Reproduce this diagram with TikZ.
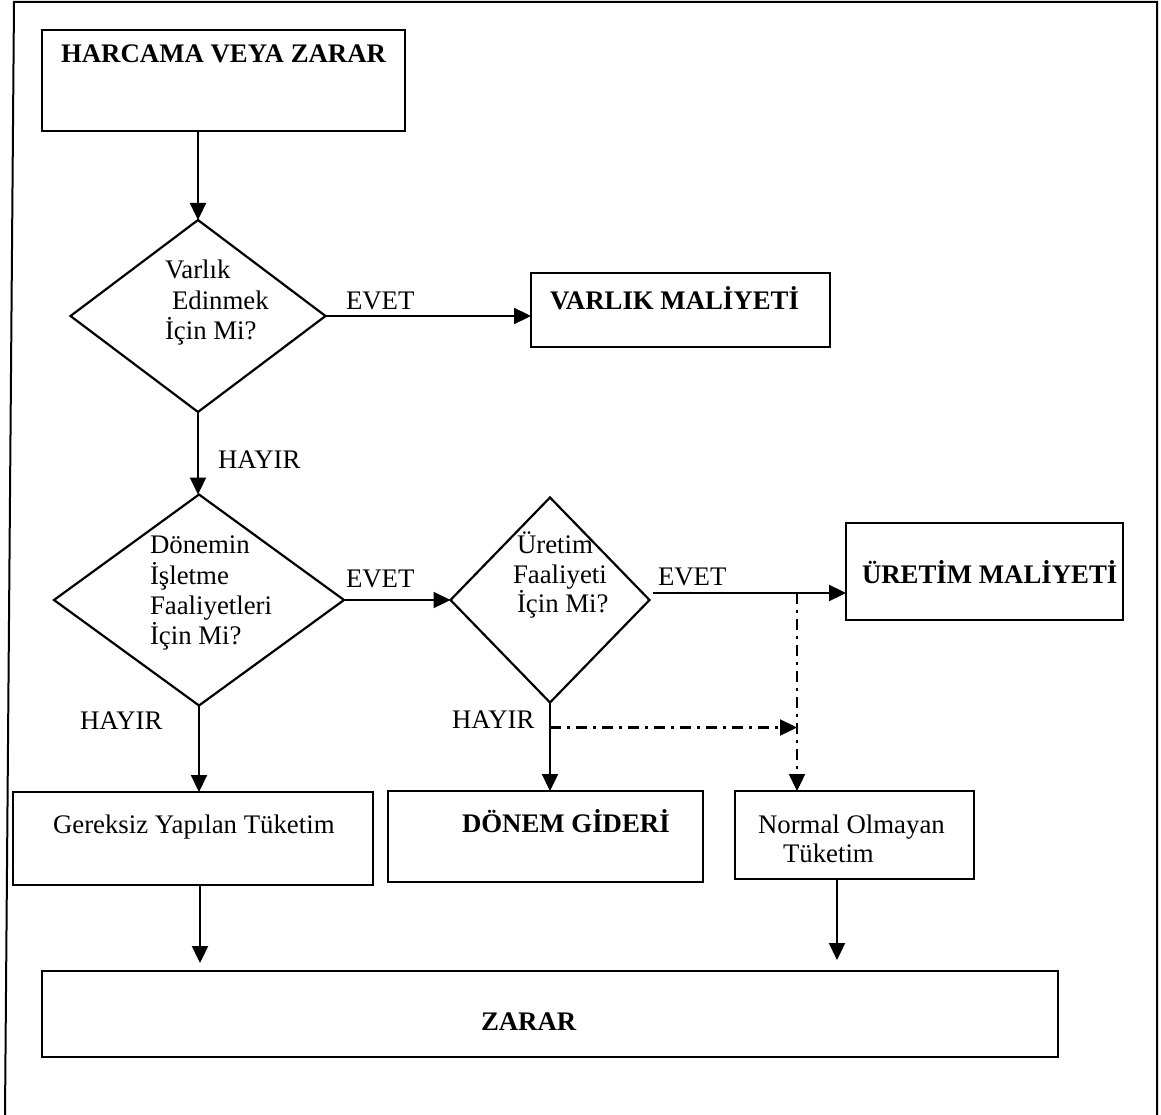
\documentclass[tikz,border=0pt]{standalone}
\usepackage{fontspec}
\setmainfont{Liberation Serif}
\usetikzlibrary{arrows.meta,shapes.geometric,calc}
\begin{document}
\begin{tikzpicture}[x=1pt,y=-1pt,
  every node/.style={inner sep=0pt,outer sep=0pt},
  box/.style={draw,line width=2.6pt,rectangle},
  dec/.style={draw,line width=2.2pt,diamond},
  lbl/.style={anchor=base west,font=\fontsize{26.8}{30}\selectfont},
  blbl/.style={anchor=base west,font=\fontsize{26.8}{30}\selectfont\bfseries},
  arr/.style={line width=2.3pt,-{Triangle[width=16pt,length=17pt]}},
  dd/.style={line width=2.3pt,dash pattern=on 11pt off 6pt on 3pt off 6pt,-{Triangle[width=16pt,length=17pt]}}]
\useasboundingbox (0,0) rectangle (1161,1115);
% outer frame
\draw[line width=2pt] (5,1116) -- (14,2) -- (1157,2) -- (1157,1116);
% boxes
\node[box,minimum width=363pt,minimum height=101pt] (harc) at (223.5,80.5) {};
\node[box,minimum width=299pt,minimum height=74pt] (varlik) at (680.5,310) {};
\node[box,minimum width=277pt,minimum height=97pt] (uretim) at (984.5,571.5) {};
\node[box,minimum width=360pt,minimum height=93pt] (gereksiz) at (193,838.5) {};
\node[box,minimum width=315pt,minimum height=91pt] (donem) at (545.5,836.5) {};
\node[box,minimum width=239pt,minimum height=88pt] (normal) at (854.5,835) {};
\node[box,minimum width=1016pt,minimum height=86pt] (zarar) at (550,1014) {};
% diamonds
\node[dec,minimum width=255pt,minimum height=192pt] (d1) at (198,316) {};
\node[dec,minimum width=290pt,minimum height=211pt] (d2) at (199,600) {};
\node[dec,minimum width=199pt,minimum height=205pt] (d3) at (550,600) {};
% box texts
\node[blbl] (tharc) at (61,63) {HARCAMA VEYA ZARAR};
\node[blbl] (tvarlik) at (550,309) {VARLIK MALİYETİ};
\node[blbl] (turetim) at (862,583) {ÜRETİM MALİYETİ};
\node[blbl] (tdonem) at (462,832) {DÖNEM GİDERİ};
\node[lbl] (tgereksiz) at (53,833) {Gereksiz Yapılan Tüketim};
\node[lbl] (tnormal1) at (758,833) {Normal Olmayan};
\node[lbl] (tnormal2) at (783,862) {Tüketim};
\node[blbl] (tzarar) at (481,1030) {ZARAR};
% diamond texts
\node[lbl] (td1a) at (165,278) {Varlık};
\node[lbl] (td1b) at (172,309) {Edinmek};
\node[lbl] (td1c) at (165,339) {İçin Mi?};
\node[lbl] (td2a) at (150,553) {Dönemin};
\node[lbl] (td2b) at (150,584) {İşletme};
\node[lbl] (td2c) at (150,614) {Faaliyetleri};
\node[lbl] (td2d) at (150,644) {İçin Mi?};
\node[lbl] (td3a) at (517,553) {Üretim};
\node[lbl] (td3b) at (513,583) {Faaliyeti};
\node[lbl] (td3c) at (517,612) {İçin Mi?};
% edge labels
\node[lbl] (e1) at (346,309) {EVET};
\node[lbl] (h1) at (218,468) {HAYIR};
\node[lbl] (e2) at (346,587) {EVET};
\node[lbl] (e3) at (658,585) {EVET};
\node[lbl] (h2) at (80,729) {HAYIR};
\node[lbl] (h3) at (452,728) {HAYIR};
% helper coordinates
\coordinate (s3) at ($(d3.east)+(3,-7)$);
\coordinate (j2) at (797,593);
\coordinate (j1) at ($(d3.south)+(0,25)$);
\coordinate (g1) at (200,0);
\coordinate (n1) at (837,0);
% connectors
\draw[arr] (harc.south -| d1.north) -- (d1.north);
\draw[arr] (d1.east) -- (d1.east -| varlik.west);
\draw[arr] (d1.south) -- (d1.south |- d2.north);
\draw[arr] (d2.east) -- (d2.east -| d3.west);
\draw[arr] (s3) -- (s3 -| uretim.west);
\draw[arr] (d2.south) -- (d2.south |- gereksiz.north);
\draw[arr] (d3.south) -- (d3.south |- donem.north);
\draw[dd] (j1) -- (j1 -| j2);
\draw[dd] (j2) -- (j2 |- normal.north);
\draw[arr] (g1 |- gereksiz.south) -- ($(g1 |- zarar.north)+(0,-8)$);
\draw[arr] (n1 |- normal.south) -- ($(n1 |- zarar.north)+(0,-11)$);
\end{tikzpicture}
\end{document}
